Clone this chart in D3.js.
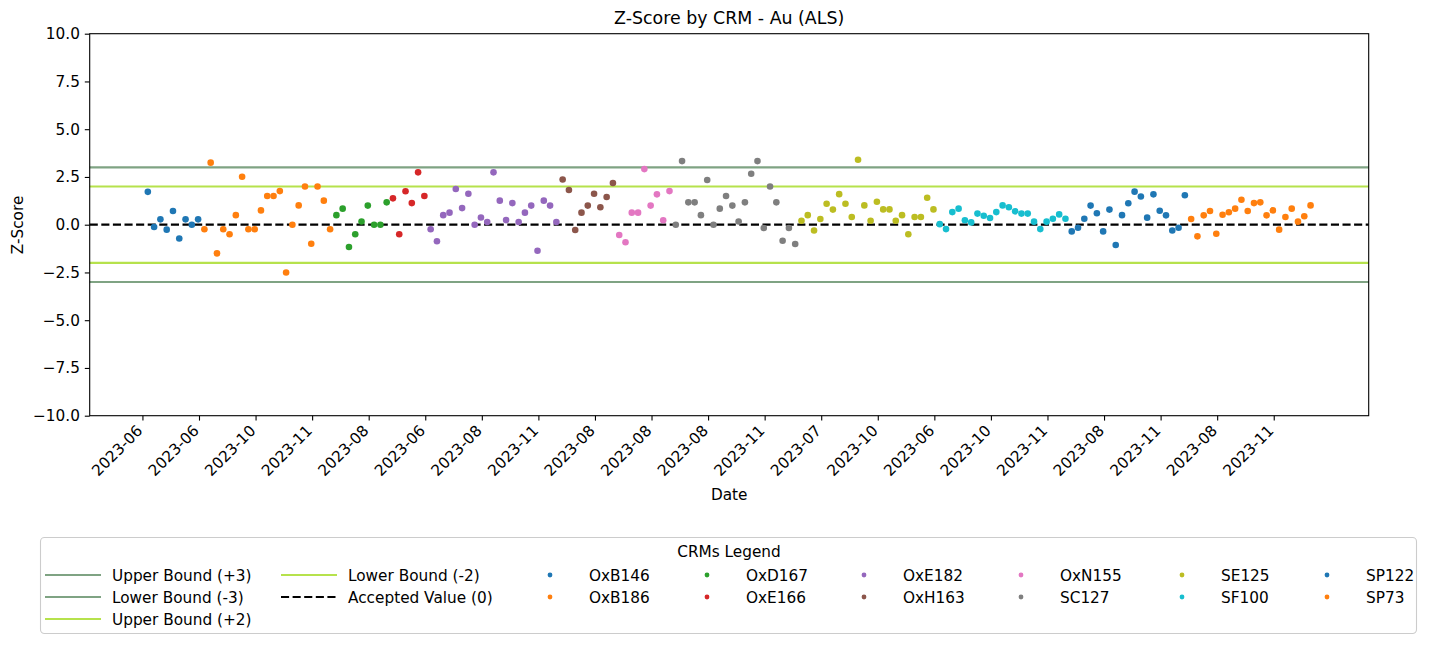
<!DOCTYPE html>
<html>
<head>
<meta charset="utf-8">
<script src="https://cdn.jsdelivr.net/npm/d3@7"></script>
<style>
  html, body { margin: 0; padding: 0; background: #ffffff; }
  svg text { font-family: "DejaVu Sans", sans-serif; fill: #000; }
</style>
</head>
<body>
<svg id="chart" width="1429" height="646"></svg>
<script>
// ---------------- data ----------------
const crmNames = ["OxB146","OxB186","OxD167","OxE166","OxE182","OxH163","OxN155","SC127","SE125","SF100","SP122","SP73"];
const crmColors = ["#1f77b4","#ff7f0e","#2ca02c","#d62728","#9467bd","#8c564b","#e377c2","#7f7f7f","#bcbd22","#17becf","#1f77b4","#ff7f0e"];

const zOxB146 = [1.72, -0.12, 0.28, -0.26, 0.72, -0.72, 0.28, 0.0, 0.28];
const zOxB186 = [-0.24, 3.25, -1.5, -0.24, -0.5, 0.5, 2.51, -0.24, -0.24, 0.75, 1.5, 1.5, 1.76, -2.5, 0.0, 1.01, 2.0, -1.0, 2.0, 1.26, -0.24];
const zOxD167 = [0.5, 0.84, -1.17, -0.5, 0.17, 1.0, 0.0, 0.0, 1.17];
const zOxE166 = [1.38, -0.5, 1.75, 1.13, 2.74, 1.5];
const zOxE182 = [-0.24, -0.87, 0.5, 0.63, 1.87, 0.87, 1.62, 0.0, 0.38, 0.14, 2.74, 1.26, 0.24, 1.13, 0.14, 0.63, 1.0, -1.36, 1.26, 1.0, 0.14];
const zOxH163 = [2.37, 1.82, -0.28, 0.63, 1.0, 1.62, 0.91, 1.45, 2.18];
const zOxN155 = [-0.54, -0.92, 0.63, 0.63, 2.91, 1.0, 1.59, 0.23, 1.76];
const zSC127  = [0.0, 3.33, 1.17, 1.17, 0.5, 2.34, 0.0, 0.84, 1.5, 1.0, 0.17, 1.17, 2.67, 3.33, -0.17, 2.0, 1.17, -0.84, -0.17, -1.01];
const zSE125  = [0.21, 0.5, -0.3, 0.3, 1.1, 0.79, 1.6, 1.1, 0.4, 3.4, 1.01, 0.21, 1.2, 0.8, 0.8, 0.21, 0.5, -0.5, 0.4, 0.4, 1.41, 0.8];
const zSF100  = [0.03, -0.23, 0.66, 0.84, 0.23, 0.12, 0.58, 0.47, 0.35, 0.66, 1.01, 0.91, 0.7, 0.58, 0.58, 0.16, -0.23, 0.16, 0.31, 0.54, 0.31];
const zSP122  = [-0.35, -0.16, 0.31, 1.0, 0.6, -0.35, 0.79, -1.06, 0.5, 1.12, 1.73, 1.48, 0.37, 1.59, 0.73, 0.49, -0.3, -0.16, 1.54];
const zSP73   = [0.3, -0.61, 0.49, 0.72, -0.47, 0.52, 0.65, 0.84, 1.31, 0.72, 1.13, 1.17, 0.49, 0.75, -0.26, 0.4, 0.84, 0.16, 0.44, 1.01];

const crmValues = [zOxB146, zOxB186, zOxD167, zOxE166, zOxE182, zOxH163, zOxN155, zSC127, zSE125, zSF100, zSP122, zSP73];

const xTickLabels = ["2023-06","2023-06","2023-10","2023-11","2023-08","2023-06","2023-08","2023-11","2023-08","2023-08","2023-08","2023-11","2023-07","2023-10","2023-06","2023-10","2023-11","2023-08","2023-11","2023-08","2023-11"];
const yTickValues = [-10, -7.5, -5, -2.5, 0, 2.5, 5, 7.5, 10];

const boundNames = ["Upper Bound (+3)","Lower Bound (-3)","Upper Bound (+2)","Lower Bound (-2)","Accepted Value (0)"];
const boundValues = [3, -3, 2, -2, 0];

// ---------------- layout ----------------
const plot = { left: 89.7, right: 1368.7, top: 33.7, bottom: 415.7 };
const tickEvery = 9, tickOffset = -0.86;
const FS = 15.3;
const LW = 2.2;
const boundStyle = [
  { color: "#7fa383", dash: null },
  { color: "#7fa383", dash: null },
  { color: "#b6e24c", dash: null },
  { color: "#b6e24c", dash: null },
  { color: "#000000", dash: "8.1,3.5" }
];

// flatten points in sequence
const points = [];
crmValues.forEach((arr, ci) => arr.forEach(v => points.push({ crm: ci, z: v })));
points.forEach((p, i) => p.i = i);
const n = points.length;

const svg = d3.select("#chart");
const x = d3.scaleLinear().domain([-(n - 1) * 0.05, (n - 1) * 1.05]).range([plot.left, plot.right]);
const y = d3.scaleLinear().domain([-10, 10]).range([plot.bottom, plot.top]);

// bound lines
const gLines = svg.append("g");
boundValues.forEach((b, k) => {
  gLines.append("line")
    .attr("x1", plot.left).attr("x2", plot.right)
    .attr("y1", y(b)).attr("y2", y(b))
    .attr("stroke", boundStyle[k].color)
    .attr("stroke-width", LW)
    .attr("stroke-dasharray", boundStyle[k].dash);
});

// points
svg.append("g").selectAll("circle").data(points).join("circle")
  .attr("cx", d => x(d.i)).attr("cy", d => y(d.z))
  .attr("r", 3.3)
  .attr("fill", d => crmColors[d.crm]);

// axes
const tickPositions = xTickLabels.map((_, k) => k * tickEvery + tickOffset);
const xAxis = d3.axisBottom(x).tickValues(tickPositions)
  .tickFormat((d, k) => xTickLabels[k]).tickSize(4.9).tickPadding(3.5);
const gx = svg.append("g").attr("transform", `translate(0,${plot.bottom})`).call(xAxis);
gx.select(".domain").remove();
gx.selectAll(".tick line").attr("stroke", "#000").attr("stroke-width", 1.1);
gx.selectAll(".tick text")
  .attr("font-size", FS)
  .attr("text-anchor", "end")
  .attr("dy", null)
  .attr("y", 0)
  .attr("transform", "translate(0.5,16) rotate(-45)");

const fmt = d => (d < 0 ? "\u2212" : "") + Math.abs(d).toFixed(1);
const yAxis = d3.axisLeft(y).tickValues(yTickValues).tickFormat(fmt).tickSize(4.9).tickPadding(4.9);
const gy = svg.append("g").attr("transform", `translate(${plot.left},0)`).call(yAxis);
gy.select(".domain").remove();
gy.selectAll(".tick line").attr("stroke", "#000").attr("stroke-width", 1.1);
gy.selectAll(".tick text").attr("font-size", FS);

// frame
svg.append("rect")
  .attr("x", plot.left).attr("y", plot.top)
  .attr("width", plot.right - plot.left).attr("height", plot.bottom - plot.top)
  .attr("fill", "none").attr("stroke", "#000").attr("stroke-width", 1.1);

// titles
svg.append("text").attr("x", (plot.left + plot.right) / 2).attr("y", 24)
  .attr("text-anchor", "middle").attr("font-size", 17.4).text("Z-Score by CRM - Au (ALS)");
svg.append("text").attr("x", (plot.left + plot.right) / 2).attr("y", 500)
  .attr("text-anchor", "middle").attr("font-size", FS).text("Date");
svg.append("text").attr("transform", "translate(23,225) rotate(-90)")
  .attr("text-anchor", "middle").attr("font-size", FS).text("Z-Score");

// legend
const lg = svg.append("g");
lg.append("rect").attr("x", 40.5).attr("y", 537.5).attr("width", 1376).attr("height", 96)
  .attr("rx", 4).attr("fill", "#fff").attr("stroke", "#cccccc").attr("stroke-width", 1.1);
lg.append("text").attr("x", 729).attr("y", 556.5).attr("text-anchor", "middle")
  .attr("font-size", FS).text("CRMs Legend");

const entries = [];
boundNames.forEach((nm, k) => entries.push({ type: "line", label: nm, style: boundStyle[k] }));
crmNames.forEach((nm, k) => entries.push({ type: "dot", label: nm, color: crmColors[k] }));
const colTextX = [112, 348, 589, 746, 903, 1060, 1221, 1366];
const rowY = [575, 597, 619];
const colSizes = [3, 2, 2, 2, 2, 2, 2, 2];
let idx = 0;
colSizes.forEach((cnt, c) => {
  for (let r = 0; r < cnt; r++) {
    const e = entries[idx++];
    const tx = colTextX[c], yy = rowY[r];
    if (e.type === "line") {
      lg.append("line").attr("x1", tx - 67).attr("x2", tx - 11)
        .attr("y1", yy).attr("y2", yy)
        .attr("stroke", e.style.color).attr("stroke-width", LW)
        .attr("stroke-dasharray", e.style.dash);
    } else {
      lg.append("circle").attr("cx", tx - 39).attr("cy", yy).attr("r", 2.4).attr("fill", e.color);
    }
    lg.append("text").attr("x", tx).attr("y", yy + 5.5).attr("font-size", FS).text(e.label);
  }
});
</script>
</body>
</html>
